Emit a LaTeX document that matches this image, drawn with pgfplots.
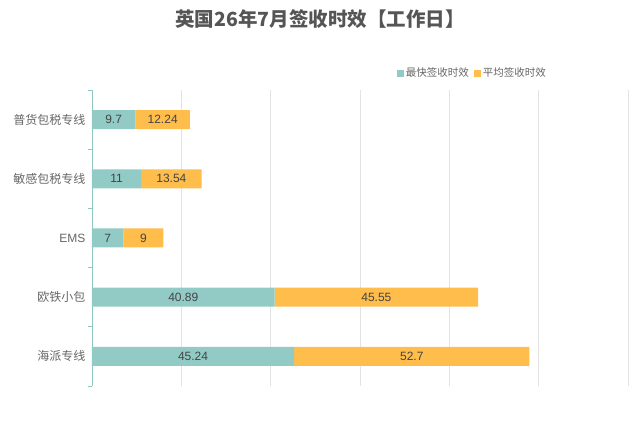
\documentclass[border=0pt]{standalone}
\usepackage{pgfplots}
\pgfplotsset{compat=1.18}
\usepackage{pgfplotstable}
\usepackage{fontspec}
\setmainfont{Noto Sans CJK SC}
\newfontfamily\latin{Liberation Sans}
\definecolor{cteal}{HTML}{92CBC5}
\definecolor{corange}{HTML}{FFBD4B}
\definecolor{caxis}{HTML}{8EC6C0}
\definecolor{ctitle}{HTML}{555555}
\definecolor{clab}{HTML}{666666}
\definecolor{cval}{HTML}{444444}
\definecolor{cgrid}{HTML}{E3E3E3}

\pgfplotstableread{
idx fast avg
0 45.24 52.7
1 40.89 45.55
2 7 9
3 11 13.54
4 9.7 12.24
}\data

\begin{document}
\begin{tikzpicture}
\path[use as bounding box] (0,0) rectangle (640pt,422pt);
\node[font=\fontsize{19.5}{22}\selectfont\bfseries, text=ctitle] at (320pt,403pt) {英国26年7月签收时效【工作日】};
\begin{axis}[
  at={(92pt,36pt)}, anchor=south west,
  width=536pt, height=296pt, scale only axis,
  xbar stacked, bar width=19pt,
  xmin=0, xmax=120, ymin=-0.5, ymax=4.5,
  axis lines*=left,
  x axis line style={draw=none},
  y axis line style={-, draw=caxis, line width=0.8pt},
  xtick={0,20,...,120}, xticklabels={},
  xmajorgrids, grid style={cgrid, line width=0.7pt},
  major x tick style={draw=none},
  ytick={0,...,4}, yticklabels={海派专线,欧铁小包,{\latin EMS},敏感包税专线,普货包税专线},
  major y tick style={draw=none}, major tick length=0pt,
  minor ytick={-0.5,0.5,...,4.5}, minor tick length=4pt, tick align=outside,
  minor y tick style={draw=caxis, line width=0.8pt},
  yticklabel style={font=\fontsize{12}{14}\selectfont, text=clab, xshift=-3pt},
  point meta=explicit symbolic,
  nodes near coords,
  every node near coord/.append style={anchor=center, font=\latin\fontsize{12}{14}\selectfont, text=cval},
  legend style={at={(axis description cs:0.851,1.057)}, anchor=east, draw=none, fill=none,
    font=\fontsize{10.5}{12}\selectfont, text=clab,
    /tikz/every even column/.append style={column sep=3pt}, inner sep=0pt, cells={anchor=west}},
  legend columns=2,
  legend image code/.code={\fill[#1] (0pt,-3.5pt) rectangle (7pt,3.5pt);},
]
\addplot[fill=cteal, draw=none]
  table[x=fast, y=idx, meta=fast]{\data};
\addplot[fill=corange, draw=none]
  table[x=avg, y=idx, meta=avg]{\data};
\legend{最快签收时效,平均签收时效}
\end{axis}
\end{tikzpicture}
\end{document}
